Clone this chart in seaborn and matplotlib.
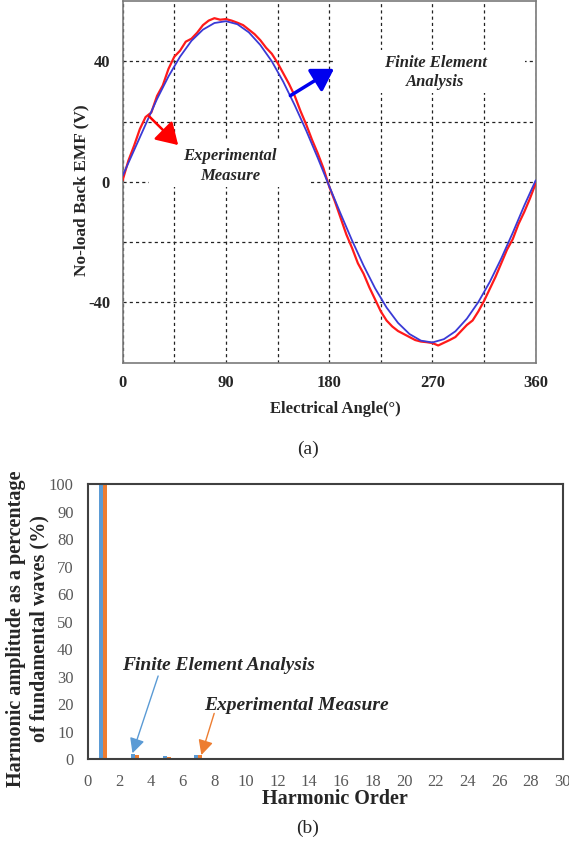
import numpy as np
import pandas as pd
import matplotlib
matplotlib.use("Agg")
import matplotlib.pyplot as plt
from matplotlib.patches import Rectangle
import seaborn as sns

# ---- (a) no-load back EMF ----
fea_angle = [0, 10, 20, 30, 40, 50, 60, 70, 80, 90, 100, 110, 120, 130, 140, 150, 160, 170, 180,
             190, 200, 210, 220, 230, 240, 250, 260, 270, 280, 290, 300, 310, 320, 330, 340, 350, 360]
fea_emf = [2.0, 10.5, 19.0, 27.5, 35.0, 41.5, 46.8, 50.5, 52.7, 53.3, 52.3, 49.6, 45.4, 40.0, 33.2,
           25.4, 17.0, 8.0, -1.4, -10.6, -19.5, -27.8, -35.3, -41.7, -46.8, -50.5, -52.7, -53.3,
           -52.2, -49.6, -45.4, -39.9, -33.2, -25.4, -16.9, -7.9, 0.5]

exp_angle = [0, 5, 10, 15, 20, 25, 30, 35, 40, 45, 50, 55, 60, 65, 70, 75, 80, 85, 90, 95, 100,
             105, 110, 115, 120, 125, 130, 135, 140, 145, 150, 155, 160, 165, 170, 175, 180, 185,
             190, 195, 200, 205, 210, 215, 220, 225, 230, 235, 240, 245, 250, 255, 260, 265, 270,
             275, 280, 285, 290, 295, 300, 305, 310, 315, 320, 325, 330, 335, 340, 345, 350, 355, 360]
exp_emf = [0.5, 7.0, 12.0, 17.5, 21.5, 23.0, 28.5, 32.0, 37.5, 41.5, 43.5, 46.5, 47.5, 49.5, 52.0,
           53.5, 54.3, 53.8, 54.0, 53.5, 52.8, 52.0, 50.5, 49.0, 47.0, 44.5, 42.5, 39.5, 36.0, 32.5,
           28.5, 23.5, 19.0, 14.0, 9.5, 4.5, -1.5, -6.5, -12.0, -17.5, -22.0, -27.0, -30.5, -35.0,
           -39.0, -43.0, -46.0, -48.0, -49.5, -50.5, -51.5, -52.5, -53.0, -53.2, -53.5, -54.3,
           -53.4, -52.5, -51.5, -49.5, -47.5, -46.0, -43.0, -39.5, -35.5, -31.5, -27.0, -22.5,
           -19.0, -14.0, -10.0, -5.5, -0.5]

# ---- (b) harmonic spectrum (% of fundamental) ----
harmonic_order = list(range(1, 31))
fea_harm = [100, 0, 1.8, 0, 1.1, 0, 1.5, 0, 0.35, 0, 0, 0, 0, 0, 0,
            0, 0, 0, 0, 0, 0, 0, 0, 0, 0, 0, 0, 0, 0, 0]
exp_harm = [100, 0, 1.45, 0, 0.9, 0, 1.3, 0, 0.3, 0, 0, 0, 0, 0, 0,
            0, 0, 0, 0, 0, 0, 0, 0, 0, 0, 0, 0, 0, 0, 0]

sns.set_style("white")
plt.rcParams["font.family"] = ["Liberation Serif", "DejaVu Serif"]
plt.rcParams["axes.unicode_minus"] = False

fig = plt.figure(figsize=(5.69, 8.43), dpi=100)

# ---------------- top panel ----------------
ax1 = fig.add_axes([0.2155, 0.5698, 0.726, 0.429])
df_fea = pd.DataFrame({"angle": fea_angle, "emf": fea_emf})
df_exp = pd.DataFrame({"angle": exp_angle, "emf": exp_emf})
sns.lineplot(data=df_exp, x="angle", y="emf", color="#ff1a1a", linewidth=1.6, ax=ax1, zorder=5)
sns.lineplot(data=df_fea, x="angle", y="emf", color="#3a3ad6", linewidth=1.3, ax=ax1, zorder=6)

ax1.set_xlim(0, 360)
ax1.set_ylim(-60, 60)
ax1.set_xticks([0, 90, 180, 270, 360])
ax1.set_xticks([45, 135, 225, 315], minor=True)
ax1.set_yticks([-40, 0, 40])
ax1.set_yticks([-20, 20], minor=True)
ax1.grid(True, which="both", color="#222222", linestyle=(0, (2.5, 2.5)), linewidth=0.9, zorder=0)
ax1.set_axisbelow(True)
ax1.tick_params(which="both", length=0)
ax1.tick_params(axis="x", pad=9)
ax1.tick_params(axis="y", pad=9)
for lab in ax1.get_xticklabels() + ax1.get_yticklabels():
    lab.set_fontsize(12)
    lab.set_fontweight("bold")
for sp in ax1.spines.values():
    sp.set_color("#7a7a7a")
    sp.set_linewidth(1.2)
ax1.set_xlabel("Electrical Angle(°)", fontsize=12, fontweight="bold")
ax1.set_ylabel("No-load Back EMF (V)", fontsize=12.5, fontweight="bold")
ax1.xaxis.set_label_coords(0.514, -0.105)
ax1.yaxis.set_label_coords(-0.0813, 0.4775)

# white boxes behind the annotation text
ax1.add_patch(Rectangle((0.514, 0.7456), 0.46, 0.119, transform=ax1.transAxes,
                        facecolor="white", edgecolor="none", zorder=2))
ax1.add_patch(Rectangle((0.065, 0.4858), 0.389, 0.13, transform=ax1.transAxes,
                        facecolor="white", edgecolor="none", zorder=2))
ax1.text(272.5, 36.3, "Finite Element\nAnalysis", ha="center", va="center", fontsize=12,
         fontweight="bold", fontstyle="italic", linespacing=1.3, zorder=3)
ax1.text(93.6, 5.3, "Experimental\nMeasure", ha="center", va="center", fontsize=12,
         fontweight="bold", fontstyle="italic", linespacing=1.3, zorder=3)
ax1.annotate("", xy=(48.4, 12.2), xytext=(23.2, 21.7), zorder=7,
             arrowprops=dict(arrowstyle="-|>,head_length=0.65,head_width=0.4", color="#ff0000",
                             lw=1.8, mutation_scale=20, shrinkA=0, shrinkB=0))
ax1.annotate("", xy=(184.2, 37.5), xytext=(146.2, 28.6), zorder=7,
             arrowprops=dict(arrowstyle="-|>,head_length=0.65,head_width=0.4", color="#0000ee",
                             lw=2.5, mutation_scale=20, shrinkA=0, shrinkB=0))

fig.text(0.5413, 0.4674, "(a)", ha="center", va="center", fontsize=14)

# ---------------- bottom panel ----------------
ax2 = fig.add_axes([0.1538, 0.0996, 0.8348, 0.3262])
df_harm = pd.DataFrame({
    "order": harmonic_order * 2,
    "amp": fea_harm + exp_harm,
    "source": ["Finite Element Analysis"] * len(harmonic_order) + ["Experimental Measure"] * len(harmonic_order),
})
sns.barplot(data=df_harm, x="order", y="amp", hue="source", native_scale=True, width=0.5,
            palette={"Finite Element Analysis": "#5b9bd5", "Experimental Measure": "#ed7d31"},
            saturation=1, linewidth=0, legend=False, ax=ax2)
ax2.set_xlim(0, 30)
ax2.set_ylim(0, 100)
ax2.set_xticks(range(0, 31, 2))
ax2.set_yticks(range(0, 101, 10))
ax2.tick_params(length=0, labelsize=12, labelcolor="#595959")
ax2.tick_params(axis="x", pad=11)
ax2.tick_params(axis="y", pad=10)
for sp in ax2.spines.values():
    sp.set_color("#404040")
    sp.set_linewidth(1.5)
ax2.set_xlabel("Harmonic Order", fontsize=14.5, fontweight="bold")
ax2.set_ylabel("Harmonic amplitude as a percentage\nof fundamental waves (%)", fontsize=14.5,
               fontweight="bold", linespacing=1.25)
ax2.xaxis.set_label_coords(0.5204, -0.109)
ax2.yaxis.set_label_coords(-0.0795, 0.473)

ax2.text(2.2, 33.9, "Finite Element Analysis", ha="left", va="center", fontsize=14,
         fontweight="bold", fontstyle="italic")
ax2.text(7.35, 19.6, "Experimental Measure", ha="left", va="center", fontsize=14,
         fontweight="bold", fontstyle="italic")
ax2.annotate("", xy=(2.84, 2.1), xytext=(4.46, 30.2),
             arrowprops=dict(arrowstyle="-|>,head_length=0.6,head_width=0.3", color="#5b9bd5",
                             lw=1.0, mutation_scale=15, shrinkA=0, shrinkB=0))
ax2.annotate("", xy=(7.19, 1.45), xytext=(8.0, 16.6),
             arrowprops=dict(arrowstyle="-|>,head_length=0.6,head_width=0.3", color="#ed7d31",
                             lw=1.0, mutation_scale=15, shrinkA=0, shrinkB=0))

fig.text(0.5413, 0.0178, "(b)", ha="center", va="center", fontsize=14)

fig.savefig("out.png", dpi=100)
